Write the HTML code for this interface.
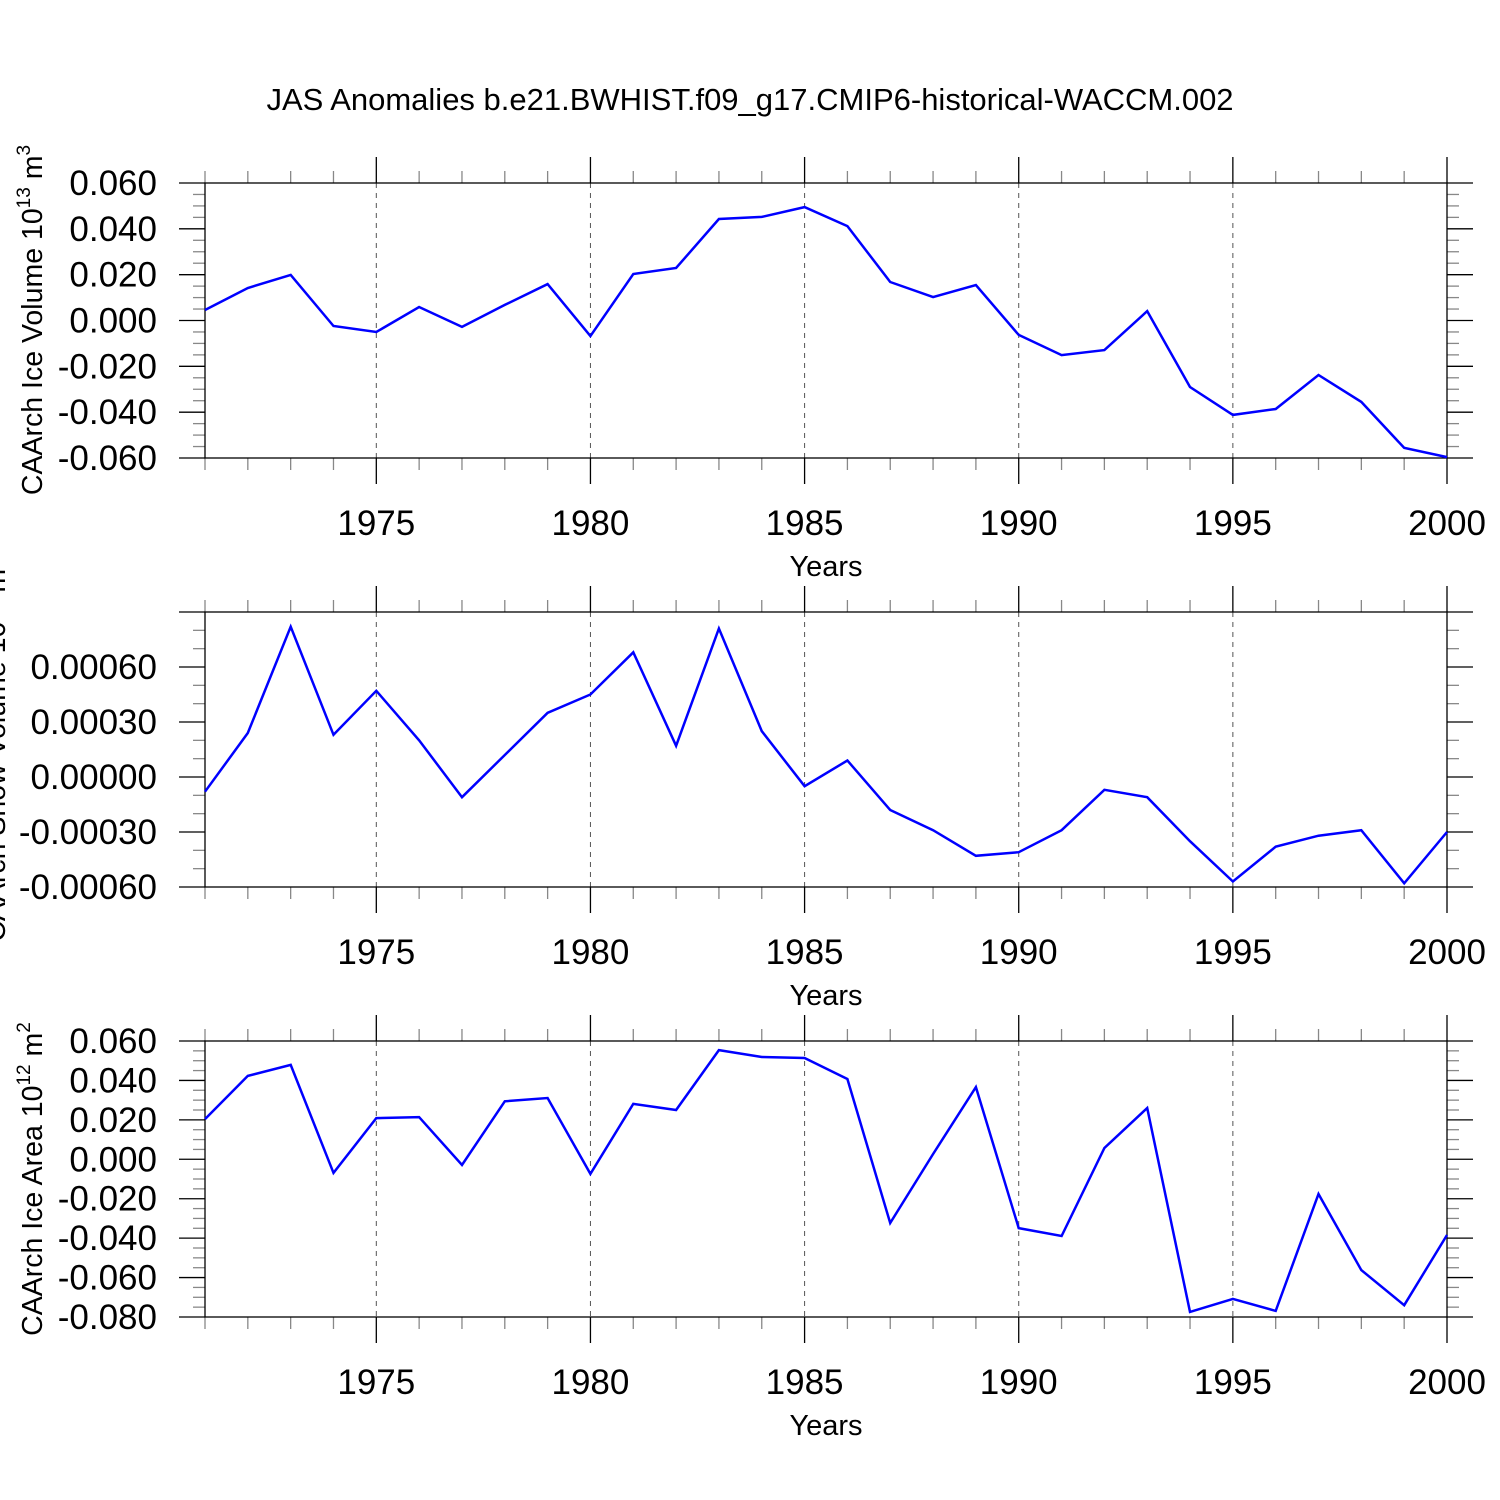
<!DOCTYPE html>
<html><head><meta charset="utf-8"><style>html,body{margin:0;padding:0;background:#fff}svg{display:block}</style></head>
<body>
<svg id="chart" width="1500" height="1500" viewBox="0 0 1500 1500" xmlns="http://www.w3.org/2000/svg" font-family="Liberation Sans, sans-serif">
<rect width="1500" height="1500" fill="#fff"/>
<text x="750" y="110" font-size="31" text-anchor="middle">JAS Anomalies b.e21.BWHIST.f09_g17.CMIP6-historical-WACCM.002</text>
</svg>
<script>
const years = [1971,1972,1973,1974,1975,1976,1977,1978,1979,1980,1981,1982,1983,1984,1985,1986,1987,1988,1989,1990,1991,1992,1993,1994,1995,1996,1997,1998,1999,2000];
const iceVolume = [0.0046,0.0142,0.0199,-0.0024,-0.005,0.0059,-0.0028,0.0068,0.0159,-0.0068,0.0203,0.0229,0.0443,0.0452,0.0495,0.0412,0.0168,0.0102,0.0155,-0.0063,-0.0151,-0.0129,0.0041,-0.029,-0.0412,-0.0386,-0.0238,-0.0355,-0.0556,-0.0596];
const snowVolume = [-0.00008,0.00024,0.00082,0.00023,0.00047,0.00020,-0.00011,0.00012,0.00035,0.00045,0.00068,0.00017,0.00081,0.00025,-0.00005,0.00009,-0.00018,-0.00029,-0.00043,-0.00041,-0.00029,-0.00007,-0.00011,-0.00035,-0.00057,-0.00038,-0.00032,-0.00029,-0.00058,-0.00030];
const iceArea = [0.0204,0.0423,0.0479,-0.0069,0.0209,0.0214,-0.0029,0.0294,0.0311,-0.0074,0.0281,0.025,0.0554,0.0519,0.0514,0.0407,-0.0323,0.0027,0.0366,-0.0349,-0.0389,0.0057,0.026,-0.0774,-0.0708,-0.0769,-0.0176,-0.0562,-0.074,-0.0384];
const xTickYears = [1975,1980,1985,1990,1995,2000];
const p1Ticks = ["0.060","0.040","0.020","0.000","-0.020","-0.040","-0.060"];
const p2Ticks = ["0.00060","0.00030","0.00000","-0.00030","-0.00060"];
const p3Ticks = ["0.060","0.040","0.020","0.000","-0.020","-0.040","-0.060","-0.080"];

const NS='http://www.w3.org/2000/svg';
const svg=document.getElementById('chart');
const X0=205,X1=1447;
function xs(yr){return X0+(yr-1971)*(X1-X0)/(2000-1971);}
function mk(tag,attrs,parent){const e=document.createElementNS(NS,tag);for(const k in attrs)e.setAttribute(k,attrs[k]);(parent||svg).appendChild(e);return e;}

function panel(name,top,bot,ymin,ymax,major,minor,ticks,data,label,lx,ly){
  const g=mk('g',{});
  
  
  const ys=v=>bot-(v-ymin)*(bot-top)/(ymax-ymin);
  for(const yr of xTickYears){
    if(yr===2000)continue;
    const l=mk('line',{x1:xs(yr),x2:xs(yr),y1:top,y2:bot,stroke:'#555','stroke-width':1,'stroke-dasharray':'5,5'},g);
    
    
  }
  for(let yr=1971;yr<=2000;yr++){
    const maj=xTickYears.includes(yr);
    const len=maj?26:12, col=maj?'#000':'#888';
    mk('line',{x1:xs(yr),x2:xs(yr),y1:top-len,y2:top,stroke:col,'stroke-width':1.3},g);
    mk('line',{x1:xs(yr),x2:xs(yr),y1:bot,y2:bot+len,stroke:col,'stroke-width':1.3},g);
  }
  const n=Math.round((ymax-ymin)/minor);
  for(let i=0;i<=n;i++){
    const v=ymin+i*minor;
    const isMaj=Math.abs(v/major-Math.round(v/major))<1e-6;
    const len=isMaj?26:12, col=isMaj?'#000':'#888', y=ys(v);
    mk('line',{x1:X0-len,x2:X0,y1:y,y2:y,stroke:col,'stroke-width':1.3},g);
    mk('line',{x1:X1,x2:X1+len,y1:y,y2:y,stroke:col,'stroke-width':1.3},g);
  }
  const fr=mk('rect',{x:X0,y:top,width:X1-X0,height:bot-top,fill:'none',stroke:'#000','stroke-width':1.3},g);
  
  
  ticks.forEach(t=>{
    const tx=mk('text',{x:157,y:ys(parseFloat(t))+12,'font-size':35,'text-anchor':'end'},g);
    tx.textContent=t;
    
    
  });
  xTickYears.forEach(yr=>{
    const tx=mk('text',{x:xs(yr),y:bot+77,'font-size':35,'text-anchor':'middle'},g);
    tx.textContent=yr;
    
    
  });
  const xt=mk('text',{x:826,y:bot+118,'font-size':29,'text-anchor':'middle'},g);
  xt.textContent='Years';
  
  
  const yl=mk('text',{x:0,y:0,'font-size':28.5,'text-anchor':'middle',transform:'translate('+lx+','+ly+') rotate(-90)'},g);
  yl.innerHTML=label;
  
  
  const pts=data.map((v,i)=>xs(years[i]).toFixed(1)+','+ys(v).toFixed(1)).join(' ');
  const pl=mk('polyline',{points:pts,fill:'none',stroke:'#0000ff','stroke-width':2.5,'stroke-linejoin':'miter'},g);
  
  
}
const SUP13='10<tspan dy="-12" font-size="19">13</tspan><tspan dy="12"> m</tspan><tspan dy="-12" font-size="19">3</tspan>';
panel('ice-volume',183,458,-0.06,0.06,0.02,0.005,p1Ticks,iceVolume,'CAArch Ice Volume '+SUP13,42,320);
panel('snow-volume',612,887,-0.0006,0.0009,0.0003,0.0001,p2Ticks,snowVolume,'CAArch Snow Volume '+SUP13,5,750);
panel('ice-area',1041,1317,-0.08,0.06,0.02,0.005,p3Ticks,iceArea,'CAArch Ice Area 10<tspan dy="-12" font-size="19">12</tspan><tspan dy="12"> m</tspan><tspan dy="-12" font-size="19">2</tspan>',42,1179);
</script>
</body></html>
